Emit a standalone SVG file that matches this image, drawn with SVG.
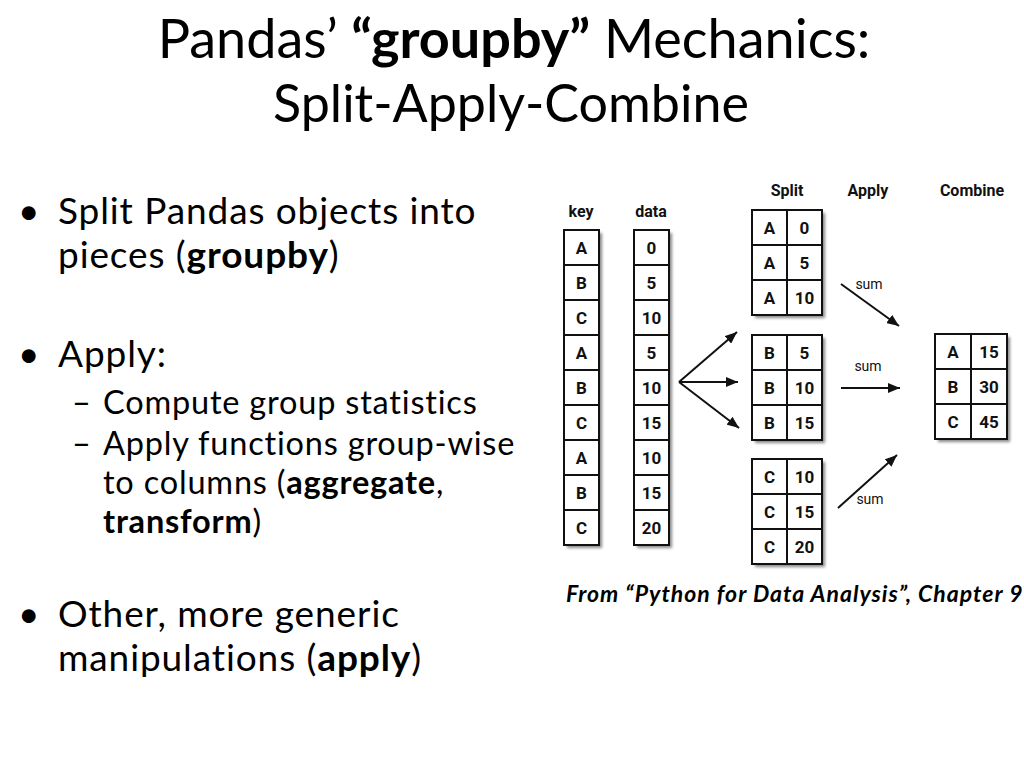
<svg xmlns="http://www.w3.org/2000/svg" width="1024" height="768" viewBox="0 0 1024 768">
<style>
.title{font-family:Lato,"Open Sans",sans-serif;font-size:54px;fill:#000;text-anchor:middle}
.b1{font-family:Lato,"Open Sans",sans-serif;font-size:37px;letter-spacing:0.9px;fill:#000;font-variant-ligatures:none}
.b2{font-family:Lato,"Open Sans",sans-serif;font-size:32.5px;letter-spacing:0.8px;fill:#000;font-variant-ligatures:none}
.bold{font-weight:bold}
.cite{font-family:Lato,"Open Sans",sans-serif;font-size:23px;letter-spacing:1px;font-weight:bold;font-style:italic;fill:#000}
.cell{fill:#fff;stroke:#111;stroke-width:2}
.div{stroke:#111;stroke-width:2}
.shadow{fill:#888;filter:url(#blur)}
.ct{font-family:Roboto,"Liberation Sans Narrow",sans-serif;font-weight:bold;font-size:17px;fill:#111;text-anchor:middle}
.hd{font-family:Roboto,"Liberation Sans Narrow",sans-serif;font-weight:bold;font-size:16px;fill:#111;text-anchor:middle}
.sum{font-family:Roboto,"Liberation Sans Narrow",sans-serif;font-size:14px;fill:#111;text-anchor:middle}
.arr{stroke:#111;stroke-width:2;fill:none;marker-end:url(#ah)}
</style>
<defs>
<filter id="blur" x="-20%" y="-20%" width="140%" height="140%"><feGaussianBlur stdDeviation="1.5"/></filter>
<marker id="ah" viewBox="0 0 12 10" refX="12" refY="5" markerWidth="12" markerHeight="10" markerUnits="userSpaceOnUse" orient="auto"><path d="M0,0 L12,5 L0,10 z" fill="#111"/></marker>
</defs>
<rect width="1024" height="768" fill="#fff"/>

<g id="title">
<text class="title" x="514" y="58">Pandas’ <tspan class="bold">“groupby”</tspan> Mechanics:</text>
<text class="title" x="511" y="122" style="font-size:52px">Split-Apply-Combine</text>
</g>

<g id="bullets">
<text class="b1" x="18" y="224">•</text>
<text class="b1"><tspan x="58" y="224">Split Pandas objects into</tspan><tspan x="58" y="268">pieces (<tspan class="bold">groupby</tspan>)</tspan></text>
<text class="b1" x="18" y="367">•</text>
<text class="b1" x="58" y="367">Apply:</text>
<text class="b2" x="72" y="414">–</text>
<text class="b2" x="103" y="414">Compute group statistics</text>
<text class="b2" x="72" y="455">–</text>
<text class="b2"><tspan x="103" y="455">Apply functions group-wise</tspan><tspan x="103" y="494">to columns (<tspan class="bold">aggregate</tspan>,</tspan><tspan x="103" y="533"><tspan class="bold">transform</tspan>)</tspan></text>
<text class="b1" x="18" y="627">•</text>
<text class="b1"><tspan x="58" y="627">Other, more generic</tspan><tspan x="58" y="671">manipulations (<tspan class="bold">apply</tspan>)</tspan></text>
</g>

<g id="headers">
<text class="hd" x="581" y="217">key</text>
<text class="hd" x="651" y="217">data</text>
<text class="hd" x="787" y="196">Split</text>
<text class="hd" x="868" y="196">Apply</text>
<text class="hd" x="972" y="196">Combine</text>
</g>

<g id="key-column">
<rect class="shadow" x="567" y="233" width="35" height="315"/>
<rect class="cell" x="564" y="230" width="35" height="315"/>
<path class="div" d="M564,265H599M564,300H599M564,335H599M564,370H599M564,405H599M564,440H599M564,475H599M564,510H599"/>
<text class="ct" x="581.5" y="254">A</text>
<text class="ct" x="581.5" y="289">B</text>
<text class="ct" x="581.5" y="324">C</text>
<text class="ct" x="581.5" y="359">A</text>
<text class="ct" x="581.5" y="394">B</text>
<text class="ct" x="581.5" y="429">C</text>
<text class="ct" x="581.5" y="464">A</text>
<text class="ct" x="581.5" y="499">B</text>
<text class="ct" x="581.5" y="534">C</text>
</g>

<g id="data-column">
<rect class="shadow" x="637" y="233" width="35" height="315"/>
<rect class="cell" x="634" y="230" width="35" height="315"/>
<path class="div" d="M634,265H669M634,300H669M634,335H669M634,370H669M634,405H669M634,440H669M634,475H669M634,510H669"/>
<text class="ct" x="651.5" y="254">0</text>
<text class="ct" x="651.5" y="289">5</text>
<text class="ct" x="651.5" y="324">10</text>
<text class="ct" x="651.5" y="359">5</text>
<text class="ct" x="651.5" y="394">10</text>
<text class="ct" x="651.5" y="429">15</text>
<text class="ct" x="651.5" y="464">10</text>
<text class="ct" x="651.5" y="499">15</text>
<text class="ct" x="651.5" y="534">20</text>
</g>

<g id="split-a">
<rect class="shadow" x="755" y="213" width="70" height="105"/>
<rect class="cell" x="752" y="210" width="70" height="105"/>
<path class="div" d="M787,210V315M752,245H822M752,280H822"/>
<text class="ct" x="769.5" y="234">A</text><text class="ct" x="804.5" y="234">0</text>
<text class="ct" x="769.5" y="269">A</text><text class="ct" x="804.5" y="269">5</text>
<text class="ct" x="769.5" y="304">A</text><text class="ct" x="804.5" y="304">10</text>
</g>

<g id="split-b">
<rect class="shadow" x="755" y="338" width="70" height="105"/>
<rect class="cell" x="752" y="335" width="70" height="105"/>
<path class="div" d="M787,335V440M752,370H822M752,405H822"/>
<text class="ct" x="769.5" y="359">B</text><text class="ct" x="804.5" y="359">5</text>
<text class="ct" x="769.5" y="394">B</text><text class="ct" x="804.5" y="394">10</text>
<text class="ct" x="769.5" y="429">B</text><text class="ct" x="804.5" y="429">15</text>
</g>

<g id="split-c">
<rect class="shadow" x="755" y="462" width="70" height="105"/>
<rect class="cell" x="752" y="459" width="70" height="105"/>
<path class="div" d="M787,459V564M752,494H822M752,529H822"/>
<text class="ct" x="769.5" y="483">C</text><text class="ct" x="804.5" y="483">10</text>
<text class="ct" x="769.5" y="518">C</text><text class="ct" x="804.5" y="518">15</text>
<text class="ct" x="769.5" y="553">C</text><text class="ct" x="804.5" y="553">20</text>
</g>

<g id="combine">
<rect class="shadow" x="938" y="337" width="72" height="105"/>
<rect class="cell" x="935" y="334" width="72" height="105"/>
<path class="div" d="M971,334V439M935,369H1007M935,404H1007"/>
<text class="ct" x="953" y="358">A</text><text class="ct" x="989" y="358">15</text>
<text class="ct" x="953" y="393">B</text><text class="ct" x="989" y="393">30</text>
<text class="ct" x="953" y="428">C</text><text class="ct" x="989" y="428">45</text>
</g>

<g id="connectors">
<line class="arr" x1="679" y1="382" x2="737" y2="332"/>
<line class="arr" x1="679" y1="382" x2="738" y2="382"/>
<line class="arr" x1="679" y1="382" x2="739" y2="428"/>
<line class="arr" x1="841" y1="284" x2="899" y2="326"/>
<line class="arr" x1="841" y1="388" x2="900" y2="388"/>
<line class="arr" x1="838" y1="508" x2="897" y2="455"/>
<text class="sum" x="869" y="289">sum</text>
<text class="sum" x="868" y="371">sum</text>
<text class="sum" x="870" y="504">sum</text>
</g>

<g id="citation">
<text class="cite" x="566" y="602">From “Python for Data Analysis”, Chapter 9</text>
</g>
</svg>
